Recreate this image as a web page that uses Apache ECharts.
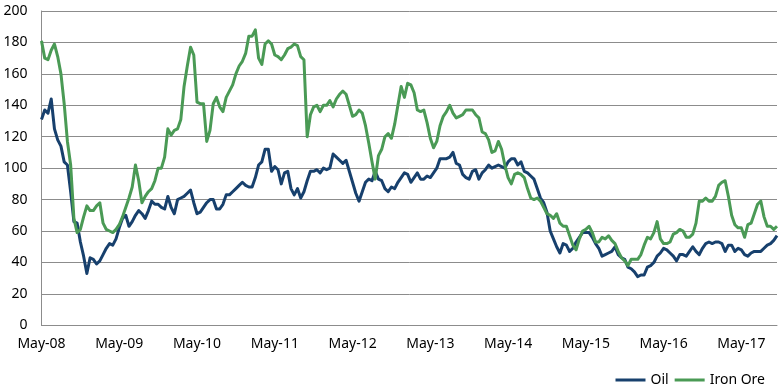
<!DOCTYPE html>
<html>
<head>
<meta charset="utf-8">
<script src="https://cdn.jsdelivr.net/npm/echarts@6/dist/echarts.min.js"></script>
<style>
html,body{margin:0;padding:0;background:#fff;}
#c{width:780px;height:390px;}
</style>
</head>
<body>
<div id="c"></div>
<script>
// Semi-monthly observations starting May 2008
var startYear = 2008, startMonth = 5, pointCount = 228;
var tickLabels = ['May-08','May-09','May-10','May-11','May-12','May-13','May-14','May-15','May-16','May-17'];
var seriesNames = ['Oil','Iron Ore'];

var oil = [
131,137,135,144,125,118,114,104,102,85,
66,65,53,44,33,43,42,39,41,45,
49,52,51,55,62,68,70,63,66,70,
73,71,68,73,79,77,77,75,74,82,
75,71,80,81,82,84,86,78,71,72,
75,78,80,80,74,74,77,83,83,85,
87,89,91,89,88,88,94,102,104,112,
112,98,101,99,90,97,98,87,83,87,
81,85,92,98,98,99,97,100,99,100,
109,107,105,103,105,98,91,84,79,85,
91,93,92,98,93,92,87,85,88,87,
91,94,97,96,91,94,97,93,93,95,
94,97,100,106,106,106,107,110,103,102,
96,94,93,98,99,93,97,99,102,100,
101,102,101,100,104,106,106,102,104,98,
97,95,93,87,81,78,72,60,55,50,
46,52,51,47,49,53,56,59,59,59,
56,52,49,44,45,46,47,50,45,43,
42,37,36,34,31,32,32,37,38,40,
44,46,49,48,46,44,41,45,45,44,
47,50,47,45,49,52,53,52,53,53,
52,47,51,51,47,49,48,45,44,46,
47,47,47,49,51,52,54,57
];

var ironOre = [
181,170,169,175,179,171,160,141,117,102,
68,59,61,69,76,73,73,76,78,65,
61,60,59,61,64,69,75,81,88,102,
92,78,82,85,87,92,100,100,107,125,
121,124,125,131,152,165,177,172,142,141,
141,117,124,141,145,139,136,145,149,153,
160,165,168,173,184,184,188,170,166,179,
181,179,172,171,169,172,176,177,179,178,
171,169,120,134,139,140,136,140,140,143,
139,144,147,149,147,140,133,134,137,135,
127,116,104,93,108,112,120,122,119,128,
140,152,145,154,153,148,137,136,137,129,
119,113,117,127,133,136,140,135,132,133,
134,137,137,137,134,132,123,122,118,110,
111,117,112,102,94,90,96,97,96,94,
87,81,80,81,79,75,71,70,68,71,
65,63,63,57,51,48,55,60,61,63,
59,53,53,56,55,57,54,52,47,43,
41,38,42,42,42,45,51,56,55,59,
66,55,52,52,53,58,59,61,60,56,
56,58,65,79,79,81,79,79,82,89,
91,92,82,70,64,62,62,56,64,65,
71,77,79,69,63,63,61,63
];

// category keys (one per half month)
var categories = [];
for (var i = 0; i < pointCount; i++) {
  var m = startMonth - 1 + Math.floor(i / 2);
  var y = startYear + Math.floor(m / 12);
  var mm = (m % 12) + 1;
  categories.push(y + '-' + (mm < 10 ? '0' + mm : mm) + (i % 2 ? 'b' : 'a'));
}

var FONT = '"Noto Sans", sans-serif';
var chart = echarts.init(document.getElementById('c'), null, {renderer: 'canvas'});
chart.setOption({
  animation: false,
  backgroundColor: '#ffffff',
  grid: {left: 41.5, right: 3, top: 11, bottom: 64.7, containLabel: false},
  legend: {
    data: seriesNames,
    right: 10,
    top: 368,
    itemWidth: 30,
    itemHeight: 3,
    itemGap: 6,
    icon: 'rect',
    textStyle: {fontFamily: FONT, fontSize: 14, color: '#000'}
  },
  xAxis: {
    type: 'category',
    data: categories,
    boundaryGap: false,
    axisLine: {show: true, lineStyle: {color: '#8c8c8c', width: 1}},
    axisTick: {show: false},
    axisLabel: {
      interval: function (idx) { return idx % 24 === 0; },
      formatter: function (val, idx) { return tickLabels[Math.round(idx / 24)] || ''; },
      fontFamily: FONT, fontSize: 14, color: '#000', margin: 12
    },
    splitLine: {show: false}
  },
  yAxis: {
    type: 'value',
    min: 0, max: 200, interval: 20,
    axisLine: {show: true, lineStyle: {color: '#8c8c8c', width: 1}},
    axisTick: {show: false},
    axisLabel: {fontFamily: FONT, fontSize: 14, color: '#000', margin: 14},
    splitLine: {show: true, lineStyle: {color: '#8c8c8c', width: 1}}
  },
  series: [
    {
      name: seriesNames[0], type: 'line', data: oil,
      showSymbol: false, symbol: 'none',
      lineStyle: {color: '#17406d', width: 3, join: 'round'},
      itemStyle: {color: '#17406d'}
    },
    {
      name: seriesNames[1], type: 'line', data: ironOre,
      showSymbol: false, symbol: 'none',
      lineStyle: {color: '#4a9a55', width: 3, join: 'round'},
      itemStyle: {color: '#4a9a55'}
    }
  ]
});
</script>
</body>
</html>
